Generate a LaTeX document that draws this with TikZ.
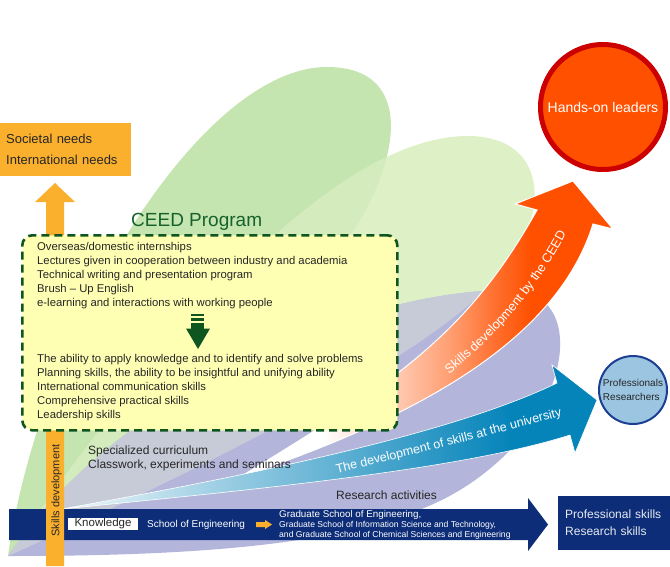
\documentclass[tikz,border=0pt]{standalone}
\usepackage{fontspec}
\setmainfont{Liberation Sans}
\usepackage{tikz}
\usetikzlibrary{arrows.meta,positioning,calc,decorations.text}

\definecolor{leafgreen}{HTML}{C4E5AF}
\definecolor{leaflime}{HTML}{DEF0C6}
\definecolor{leafmix}{HTML}{D4EBBE}
\definecolor{leaflilac}{HTML}{B3B6DA}
\definecolor{leafgrey}{HTML}{C7CBD8}
\definecolor{needs}{HTML}{FBB02D}
\definecolor{ceedgreen}{HTML}{17612C}
\definecolor{ceeddash}{HTML}{0F5520}
\definecolor{boxyellow}{HTML}{FFFFB4}
\definecolor{uninavy}{HTML}{0D2D78}
\definecolor{unicyan}{HTML}{0584BA}
\definecolor{fire}{HTML}{FF5000}
\definecolor{firering}{HTML}{CC0000}
\definecolor{skyfill}{HTML}{9BC5E1}
\definecolor{ringnavy}{HTML}{1C3F93}
\definecolor{ink}{HTML}{262626}
\colorlet{fireA}{fire!30!white}
\colorlet{fireB}{fire!55!white}
\colorlet{fireC}{fire!85!white}
\colorlet{cyanZ}{unicyan!6!white}
\colorlet{cyanA}{unicyan!20!white}
\colorlet{cyanB}{unicyan!40!white}
\colorlet{cyanC}{unicyan!62!white}
\colorlet{cyanD}{unicyan!85!white}

% fades along the two growth arrows
\pgfdeclarehorizontalshading{ceedfade}{100bp}{color(0bp)=(white); color(25bp)=(white);
  color(36bp)=(white); color(46bp)=(fireA); color(53bp)=(fireB); color(60bp)=(fireC);
  color(64bp)=(fire); color(100bp)=(fire)}
\pgfdeclarehorizontalshading{unifade}{100bp}{color(0bp)=(white); color(25bp)=(cyanZ);
  color(31bp)=(cyanA); color(40bp)=(cyanB); color(50bp)=(cyanC); color(60bp)=(cyanD);
  color(67bp)=(unicyan); color(100bp)=(unicyan)}

\tikzset{
  needsbox/.style={
    rectangle, fill=needs, text=ink,
    minimum width=131pt, minimum height=53pt,
    text width=119pt, align=left,
    inner xsep=6pt, inner ysep=0pt,
    font=\fontsize{13}{21}\selectfont
  },
  ceedbox/.style={
    rectangle, rounded corners=10pt, draw=ceeddash, fill=boxyellow,
    line width=2.6pt, dash pattern=on 8pt off 5pt,
    minimum width=375pt, minimum height=195pt
  },
  listtext/.style={
    inner sep=0pt, align=left, text=ink,
    font=\fontsize{11.3}{14}\selectfont
  },
  plaintext/.style={
    inner sep=0pt, align=left, text=ink,
    font=\fontsize{12}{14}\selectfont
  },
  navybox/.style={
    rectangle, fill=uninavy, text=white!90!uninavy,
    minimum width=112pt, minimum height=54pt,
    text width=98pt, align=left, inner xsep=7pt,
    font=\fontsize{12}{17}\selectfont
  },
  keybox/.style={
    rectangle, fill=white, text=ink,
    minimum width=70pt, minimum height=12.5pt, inner sep=0pt,
    font=\fontsize{11.5}{12}\selectfont
  },
  bartext/.style={
    inner sep=0pt, align=left, text=white
  },
  leadercircle/.style={
    circle, draw=firering, fill=fire, line width=5pt,
    minimum size=125pt, text=white,
    font=\fontsize{14}{14}\selectfont
  },
  procircle/.style={
    circle, draw=ringnavy, fill=skyfill, line width=2pt,
    minimum size=68pt, inner sep=0pt, text=ink, align=left,
    font=\fontsize{10}{14}\selectfont
  },
  arrowlabel/.style={
    decorate, decoration={text along path, text align=left, #1}
  },
}

\begin{document}
\begin{tikzpicture}[
  x=1pt, y=-1pt,
  darkleaf/.style={insert path={(8,556) .. controls (40,330) and (200,67) .. (327,67)
    .. controls (420,67) and (400,170) .. (340,250)
    .. controls (250,370) and (80,470) .. (8,556) -- cycle}},
  limeleaf/.style={insert path={(8,556) .. controls (150,350) and (330,136) .. (468,136)
    .. controls (550,136) and (555,220) .. (490,285)
    .. controls (420,360) and (200,470) .. (8,556) -- cycle}},
  lilacleaf/.style={insert path={(8,556) .. controls (120,390) and (360,290) .. (510,290)
    .. controls (590,290) and (575,420) .. (460,490)
    .. controls (370,545) and (200,556) .. (8,556) -- cycle}}
]
\useasboundingbox (0,0) rectangle (670,566);

% BACKGROUND: three leaves
\fill[leafgreen, darkleaf];
\fill[leaflime, limeleaf];
\begin{scope}
  \clip[darkleaf];
  \fill[leafmix, limeleaf];
\end{scope}
\fill[leaflilac, lilacleaf];
\begin{scope}
  \clip[limeleaf];
  \fill[leafgrey, lilacleaf];
\end{scope}

% Growth arrows
\shadedraw[shading=ceedfade, draw=white, line width=1pt]
  (240,477) .. controls (400,380) and (470,330) .. (537,210)
  -- (515,204) -- (573,181) -- (613,229) -- (593,224)
  .. controls (560,330) and (440,410) .. (240,477) -- cycle;
\shadedraw[shading=unifade, draw=white, line width=0.6pt]
  (62,509) .. controls (280,470) and (460,430) .. (557,383)
  -- (552,365) -- (597,400) -- (575,453) -- (570,435)
  .. controls (460,470) and (250,490) .. (62,509) -- cycle;

% Knowledge bar
\fill[uninavy] (9,509) -- (528,509) -- (528,498) -- (548,524.5) -- (528,551)
  -- (528,540) -- (9,540) -- cycle;
\node[navybox, anchor=north west] (skillsbox) at (558,496) {Professional skills\\Research skills};

% Skills development bar up to the needs
\fill[needs] (46,566) -- (46,202) -- (35,202) -- (55,183) -- (75,202) -- (64,202)
  -- (64,566) -- cycle;
\node[needsbox, anchor=north west] (needs) at (0,123) {Societal needs\\International needs};

% CEED program box
\node[ceedbox, anchor=north west] (ceed) at (21,234) {};
\node[anchor=base west, inner sep=0pt, text=ceedgreen, font=\fontsize{19}{19}\selectfont]
  (ceedtitle) at (131,226) {CEED Program};
\node[listtext, anchor=north west] (activities) at (37,241.8)
  {Overseas/domestic internships\\
   Lectures given in cooperation between industry and academia\\
   Technical writing and presentation program\\
   Brush -- Up English\\
   e-learning and interactions with working people};
\fill[ceeddash] (191,314) rectangle (204,316.3);
\fill[ceeddash] (191,318.3) rectangle (204,321);
\fill[ceeddash] (191,322.6) rectangle (204,328.5);
\fill[ceeddash] (186,328.5) -- (210,328.5) -- (198,349) -- cycle;
\node[listtext, anchor=north west] (abilities) at (37,353.8)
  {The ability to apply knowledge and to identify and solve problems\\
   Planning skills, the ability to be insightful and unifying ability\\
   International communication skills\\
   Comprehensive practical skills\\
   Leadership skills};

% Labels over the leaves and the bar
\node[plaintext, anchor=north west] (curriculum) at (88,446)
  {Specialized curriculum\\Classwork, experiments and seminars};
\node[rotate=90, anchor=base, inner sep=0pt, text=ink, font=\fontsize{11}{11}\selectfont]
  (skillsdev) at (59.3,490.5) {Skills development};
\node[keybox] (knowledge) at (103,524) {Knowledge};
\node[bartext, anchor=base west, font=\fontsize{10}{10}\selectfont]
  (school) at (147,527.5) {School of Engineering};
\fill[needs] (256,522) -- (265,522) -- (265,520) -- (272,524.5) -- (265,529)
  -- (265,527) -- (256,527) -- cycle;
\node[bartext, anchor=north west, font=\fontsize{8.6}{10}\selectfont] (graduate) at (279,510)
  {{\fontsize{9.8}{10}\selectfont Graduate School of Engineering,}\\
   Graduate School of Information Science and Technology,\\
   and Graduate School of Chemical Sciences and Engineering};
\node[anchor=base west, inner sep=0pt, text=ink, font=\fontsize{12}{12}\selectfont]
  (research) at (336,499.5) {Research activities};

% Arrow labels
\path[arrowlabel={text={|\fontsize{12.8}{12.8}\selectfont\color{white}|Skills development by the CEED}}]
  (449,374) .. controls (492,340) and (545,285) .. (580,205);
\path[arrowlabel={text={|\fontsize{12.5}{12.5}\selectfont\color{white}|The development of skills at the university}}]
  (337,473) .. controls (420,453) and (500,433) .. (584,410);

% Outcomes
\node[leadercircle] (leaders) at (603,107) {Hands-on leaders};
\node[procircle] (pros) at (633,390) {Professionals\\Researchers};

\end{tikzpicture}
\end{document}
